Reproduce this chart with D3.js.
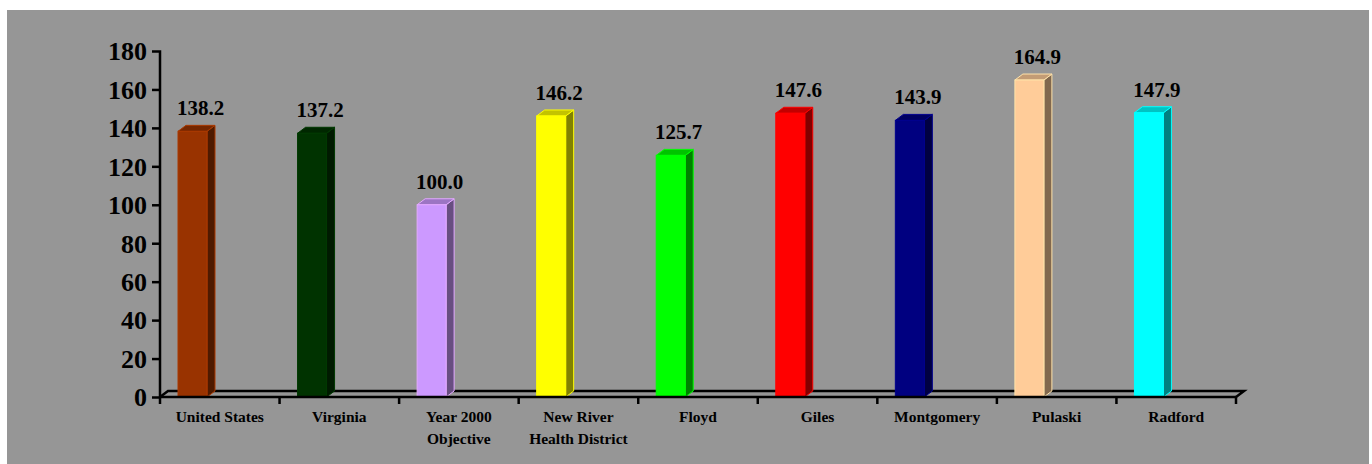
<!DOCTYPE html>
<html>
<head>
<meta charset="utf-8">
<script src="https://cdn.jsdelivr.net/npm/d3@7/dist/d3.min.js"></script>
<style>
  html, body { margin: 0; padding: 0; background: #ffffff; }
  svg { display: block; }
  text { font-family: "Liberation Serif", "Times New Roman", serif; font-weight: bold; fill: #000; }
</style>
</head>
<body>
<svg id="chart" width="1372" height="464"></svg>
<script>
// Chart data
const categories = [
  ["United States"], ["Virginia"], ["Year 2000", "Objective"],
  ["New River", "Health District"], ["Floyd"], ["Giles"],
  ["Montgomery"], ["Pulaski"], ["Radford"]
];
const values = [138.2, 137.2, 100.0, 146.2, 125.7, 147.6, 143.9, 164.9, 147.9];
const colors = ["#993300", "#003300", "#CC99FF", "#FFFF00", "#00FF00",
                "#FF0000", "#000080", "#FFCC99", "#00FFFF"];
const yTicks = [0, 20, 40, 60, 80, 100, 120, 140, 160, 180];

const svg = d3.select("#chart");

// Gray plot panel
svg.append("rect").attr("x", 7).attr("y", 10).attr("width", 1362).attr("height", 454)
  .attr("fill", "#969696");

const names = categories.map(c => c.join(" "));
const x = d3.scaleBand().domain(names).range([160, 1236]).paddingInner(0).paddingOuter(0);
const y = d3.scaleLinear().domain([0, 180]).range([397, 51]);

// 3D depth offset
const dx = 8, dy = 6;
const barOffset = 18, barW = 29;

// Floor: back edge and right-side diagonal
const g = svg.append("g");
g.append("path")
  .attr("d", `M${160},${y(0)} L${160 + dx},${y(0) - dy} L${1236 + dx},${y(0) - dy} L${1236},${y(0)}`)
  .attr("fill", "none").attr("stroke", "#000").attr("stroke-width", 2.5);

// Bars with front, side and top faces
const data = names.map((n, i) => ({ name: n, value: values[i], color: colors[i] }));
const bars = g.selectAll("g.bar").data(data).join("g").attr("class", "bar");

bars.each(function(d) {
  const sel = d3.select(this);
  const x0 = x(d.name) + barOffset;
  const x1 = x0 + barW;
  const yt = y(d.value);
  const yb = y(0);
  const base = d3.color(d.color);
  const side = base.darker(1.9);
  const top = base.darker(0.75);
  const edge = base.brighter(0.3);
  // side face
  sel.append("path")
    .attr("d", `M${x1},${yb} L${x1 + dx},${yb - dy} L${x1 + dx},${yt - dy} L${x1},${yt} Z`)
    .attr("fill", side).attr("stroke", edge).attr("stroke-width", 1);
  // top face
  sel.append("path")
    .attr("d", `M${x0},${yt} L${x0 + dx},${yt - dy} L${x1 + dx},${yt - dy} L${x1},${yt} Z`)
    .attr("fill", top).attr("stroke", edge).attr("stroke-width", 1);
  // front face
  sel.append("rect")
    .attr("x", x0).attr("y", yt).attr("width", barW).attr("height", yb - yt)
    .attr("fill", base).attr("stroke", edge).attr("stroke-width", 1);
  // value label centered over the back face
  sel.append("text")
    .attr("x", x0 + dx + barW / 2).attr("y", yt - dy - 10)
    .attr("text-anchor", "middle").attr("font-size", 21)
    .text(d.value.toFixed(1));
});

// Y axis
const yAxis = d3.axisLeft(y).tickValues(yTicks).tickSize(8).tickPadding(5).tickFormat(d3.format("d"));
const ya = svg.append("g").attr("transform", "translate(160,0)").call(yAxis);
ya.select(".domain").attr("stroke", "#000").attr("stroke-width", 2.5).attr("d", `M-8,51.5H0V${y(0)}`);
ya.selectAll(".tick line").attr("stroke", "#000").attr("stroke-width", 2.5);
ya.selectAll(".tick text").attr("font-size", 26).attr("font-family", "Liberation Serif, serif")
  .attr("font-weight", "bold").attr("fill", "#000").attr("dy", "0.34em");
ya.selectAll(".tick").filter(d => d === 180).select("line").remove();

// Front floor edge (x axis)
const xAxis = d3.axisBottom(x).tickSize(0).tickFormat(() => "");
const xa = svg.append("g").attr("transform", `translate(0,${y(0)})`).call(xAxis);
xa.select(".domain").attr("stroke", "#000").attr("stroke-width", 2.5).attr("d", "M160,0H1236");

// Category boundary ticks
const bounds = names.map(n => x(n)).concat([1236]);
svg.append("g").selectAll("line").data(bounds).join("line")
  .attr("x1", d => d).attr("x2", d => d).attr("y1", y(0)).attr("y2", y(0) + 7)
  .attr("stroke", "#000").attr("stroke-width", 2.5);

// Category labels
const lab = svg.append("g").selectAll("text").data(categories).join("text")
  .attr("text-anchor", "middle").attr("font-size", 15.5)
  .attr("x", (d, i) => x(names[i]) + x.bandwidth() / 2)
  .attr("y", 422);
lab.selectAll("tspan").data(d => d).join("tspan")
  .attr("x", function() { return d3.select(this.parentNode).attr("x"); })
  .attr("dy", (d, i) => i === 0 ? 0 : 21.5)
  .text(d => d);
</script>
</body>
</html>
